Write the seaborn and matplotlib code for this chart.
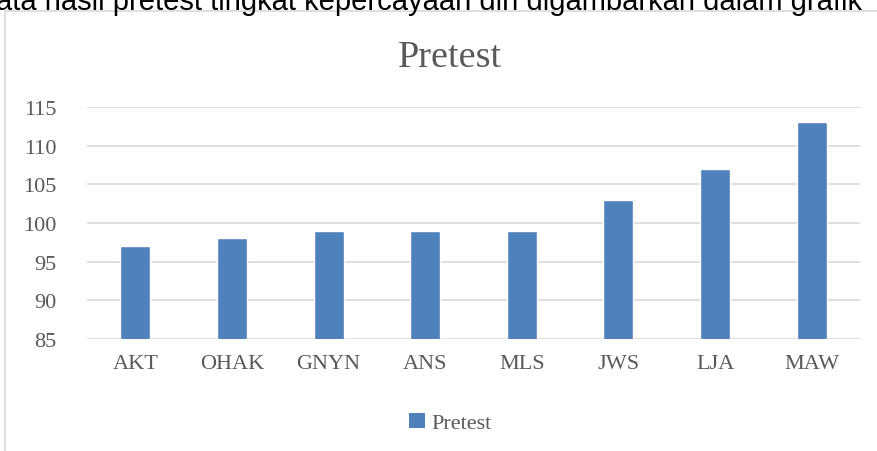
import matplotlib
matplotlib.use("Agg")
import matplotlib.pyplot as plt
import seaborn as sns
import pandas as pd
from matplotlib.patches import Rectangle, Patch

students = ["AKT", "OHAK", "GNYN", "ANS", "MLS", "JWS", "LJA", "MAW"]
pretest = [97, 98, 99, 99, 99, 103, 107, 113]
y_ticks = [85, 90, 95, 100, 105, 110, 115]

bar_color = "#4f81bd"
text_color = "#595959"
grid_color = "#d9d9d9"

sns.set_theme(style="white")
plt.rcParams["font.family"] = ["Liberation Serif", "DejaVu Serif"]

df = pd.DataFrame({"student": students, "score": pretest})

fig = plt.figure(figsize=(8.78, 4.52), dpi=100)
ax = fig.add_axes([0.0991, 0.2478, 0.8804, 0.5132])

sns.barplot(data=df, x="student", y="score", color=bar_color, width=0.31,
            saturation=1, ax=ax, zorder=3)

ax.set_ylim(85, 115)
ax.set_yticks(y_ticks)
ax.set_xlim(-0.5, len(students) - 0.5)
ax.yaxis.grid(True, color=grid_color, linewidth=1.2, zorder=0)
ax.set_axisbelow(True)
for s in ax.spines.values():
    s.set_visible(False)
ax.set_xlabel("")
ax.set_ylabel("")
ax.tick_params(axis="both", length=0, labelsize=16, colors=text_color)
ax.tick_params(axis="x", pad=11)
ax.tick_params(axis="y", pad=22)

fig.text(0.513, 0.872, "Pretest", ha="center", va="center",
         fontsize=27.5, color=text_color)

# chart frame (extends past the picture edges)
fig.patches.append(Rectangle((5 / 878, -0.1), 1.2, 1 - 12 / 452 + 0.1,
                             transform=fig.transFigure, fill=False,
                             edgecolor=grid_color, linewidth=1.2))

# partial caption line from the document above the chart
fig.text(-0.004, 1 - 10 / 452,
         "ata hasil pretest tingkat kepercayaan diri digambarkan dalam grafik",
         ha="left", va="baseline", fontsize=21, color="black",
         family=["Liberation Sans", "DejaVu Sans"])

handle = Patch(facecolor=bar_color, edgecolor="none")
fig.legend([handle], ["Pretest"], loc="center", bbox_to_anchor=(0.513, 0.062),
           frameon=False, fontsize=16, handlelength=0.7, handleheight=0.7,
           handletextpad=0.3, labelcolor=text_color)

fig.savefig("out.png", dpi=100)
